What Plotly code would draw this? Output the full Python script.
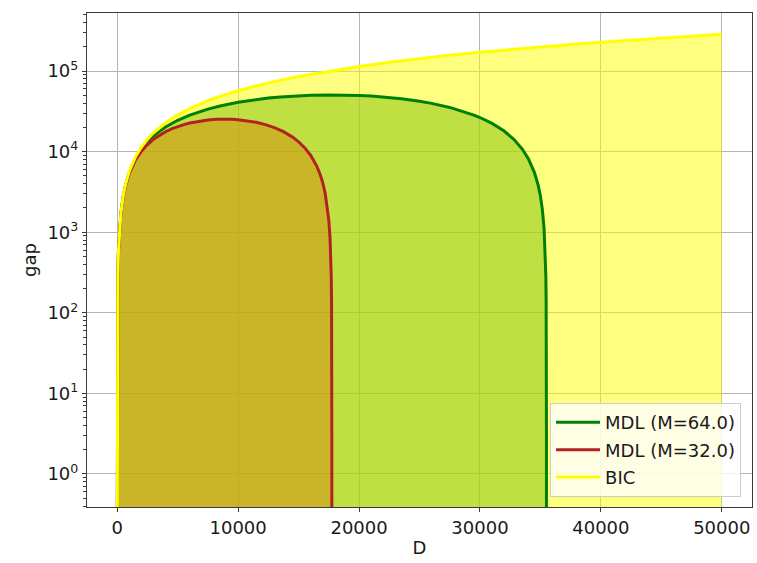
import plotly.graph_objects as go

# ---- data ----
D_bic = [0.01, 0.1, 1, 5, 20, 50, 100, 200, 300, 500, 700, 1000, 1500, 2000, 2500,
         3000, 4000, 5000, 6000, 7500, 8500, 10000, 12500, 15000, 17500, 20000,
         22500, 25000, 27500, 30000, 32500, 35000, 37500, 40000, 42500, 45000,
         47500, 50000]
gap_bic = [0.057, 0.57, 5.7, 28.5, 114, 285, 570, 1140, 1710, 2850, 3990, 5700,
           8550, 11400, 14250, 17100, 22800, 28500, 34200, 42750, 48450, 57000,
           71250, 85500, 99750, 114000, 128250, 142500, 156750, 171000, 185250,
           199500, 213750, 228000, 242250, 256500, 270750, 285000]

D_mdl64 = [0.01, 0.1, 1, 5, 20, 50, 100, 200, 300, 500,
           700, 1000, 1500, 2000, 2500, 3000, 4000, 5000, 6000, 7500,
           8500, 10000, 11000, 12500, 13500, 15000, 16000, 17500, 18500, 20000,
           21000, 22500, 23500, 25000, 26000, 27500, 28500, 29500, 30000, 31000,
           32000, 32800, 33500, 34000, 34500, 34800, 35000, 35150, 35300, 35400,
           35450, 35475, 35490, 35495, 35498, 35499, 35499.5, 35499.9, 35499.99]
gap_mdl64 = [0.057, 0.57, 5.7, 28.5, 114, 285, 568, 1134, 1696, 2810,
             3911, 5540, 8189, 10758, 13246, 15655, 20231, 24486, 28420, 33718,
             36849, 40944, 43272, 46162, 47687, 49373, 50096, 50577, 50497, 49775,
             48891, 46965, 45279, 42148, 39659, 35324, 32032, 28420, 26493, 22399,
             17983, 14219, 10758, 8189, 5540, 3911, 2810, 1975, 1134, 568,
             285, 142, 57, 28.5, 11.4, 5.7, 2.85, 0.57, 0.057]

D_mdl32 = [0.01, 0.1, 1, 5, 20, 50, 100, 200, 300, 500,
           700, 1000, 1500, 2000, 2500, 3000, 3500, 4000, 4500, 5000,
           5500, 6000, 6750, 7500, 8200, 8875, 9500, 10000, 10750, 11500,
           12250, 13000, 13750, 14500, 15000, 15500, 16000, 16500, 16800, 17000,
           17200, 17400, 17500, 17600, 17650, 17700, 17725, 17740, 17745, 17748,
           17749, 17749.5, 17749.9, 17749.99]
gap_mdl32 = [0.057, 0.57, 5.7, 28.5, 114, 284, 567, 1127, 1681, 2770,
             3833, 5379, 7828, 10116, 12243, 14210, 16016, 17662, 19147, 20472,
             21636, 22639, 23844, 24687, 25147, 25294, 25168, 24887, 24165, 23081,
             21636, 19830, 17662, 15133, 13246, 11199, 8992, 6623, 5125, 4094,
             3038, 1956, 1405, 848, 567, 284, 142, 57, 28.5, 11.4,
             5.7, 2.85, 0.57, 0.057]

names = ["MDL (M=64.0)", "MDL (M=32.0)", "BIC"]
x_ticks = [0, 10000, 20000, 30000, 40000, 50000]
y_ticks = [1, 10, 100, 1000, 10000, 100000]
y_tick_text = ["10<sup>0</sup>", "10<sup>1</sup>", "10<sup>2</sup>",
               "10<sup>3</sup>", "10<sup>4</sup>", "10<sup>5</sup>"]
FLOOR = 0.01

fig = go.Figure()


def fill_trace(xs, ys, color):
    return go.Scatter(x=list(xs) + [xs[-1], xs[0]], y=list(ys) + [FLOOR, FLOOR],
                      mode="none", fill="toself", fillcolor=color,
                      showlegend=False, hoverinfo="skip")


# fills (drawn first, semi-transparent so the grid shows through)
fig.add_trace(fill_trace(D_bic, gap_bic, "rgba(255,255,0,0.5)"))
fig.add_trace(fill_trace(D_mdl64, gap_mdl64, "rgba(129,191,8,0.5)"))
fig.add_trace(fill_trace(D_mdl32, gap_mdl32, "rgba(212,140,16,0.5)"))

# lines
fig.add_trace(go.Scatter(x=D_mdl64, y=gap_mdl64, mode="lines", name=names[0],
                         line=dict(color="#008000", width=3), legendgroup="a"))
fig.add_trace(go.Scatter(x=D_mdl32, y=gap_mdl32, mode="lines", name=names[1],
                         line=dict(color="#b22222", width=3), legendgroup="b"))
fig.add_trace(go.Scatter(x=D_bic, y=gap_bic, mode="lines", name=names[2],
                         line=dict(color="#ffff00", width=3), legendgroup="c"))

axis_common = dict(
    showline=True, linecolor="#3a3a3a", linewidth=1.2, mirror=True,
    ticks="outside", ticklen=4, tickcolor="#3a3a3a", tickwidth=1,
    showgrid=True, gridcolor="#b4b4b4", gridwidth=1, zeroline=False,
    tickfont=dict(size=18, color="#1a1a1a"), automargin=False,
)

fig.update_layout(
    width=757, height=563,
    margin=dict(l=87, r=5, t=13, b=56),
    paper_bgcolor="white", plot_bgcolor="white",
    font=dict(family="DejaVu Sans", size=18, color="#1a1a1a"),
    xaxis=dict(range=[-2500, 52500], tickvals=x_ticks,
               ticktext=[str(v) for v in x_ticks],
               title=dict(text="D", font=dict(size=18), standoff=4),
               **axis_common),
    yaxis=dict(type="log", range=[-0.41, 5.72], tickvals=y_ticks,
               ticktext=y_tick_text,
               title=dict(text="gap", font=dict(size=18), standoff=6),
               minor=dict(ticks="outside", ticklen=2.5, tickcolor="#3a3a3a", dtick="D1",
                          showgrid=False),
               **axis_common),
    legend=dict(x=0.9835, y=0.02, xanchor="right", yanchor="bottom",
                bgcolor="rgba(255,255,255,0.8)", bordercolor="#cccccc", borderwidth=1,
                font=dict(size=18, color="#1a1a1a"), tracegroupgap=1, itemwidth=44),
    showlegend=True,
)

fig.write_html("out.html", config={"displayModeBar": False},
               post_script="document.body.style.margin='0';document.body.style.padding='0';")
